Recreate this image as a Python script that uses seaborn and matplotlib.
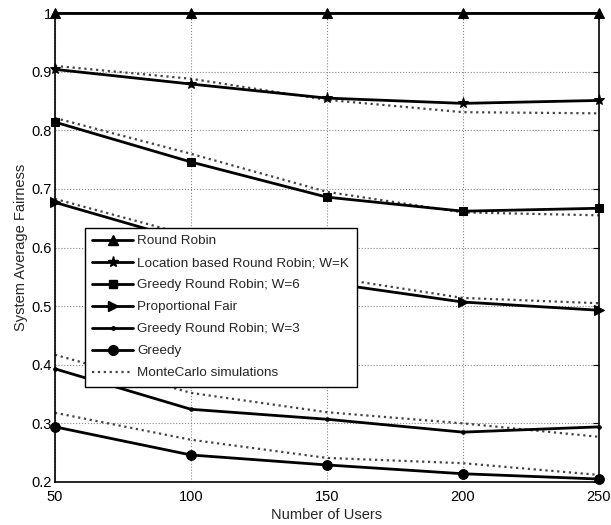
import matplotlib
matplotlib.use("Agg")
import matplotlib.pyplot as plt
from matplotlib.lines import Line2D
import pandas as pd
import seaborn as sns

users = [50, 100, 150, 200, 250]

# analytical results
round_robin = [1.0, 1.0, 1.0, 1.0, 1.0]
loc_rr = [0.904, 0.879, 0.855, 0.846, 0.851]
greedy_rr6 = [0.814, 0.746, 0.686, 0.662, 0.667]
prop_fair = [0.677, 0.610, 0.540, 0.507, 0.493]
greedy_rr3 = [0.393, 0.324, 0.307, 0.285, 0.294]
greedy = [0.294, 0.246, 0.229, 0.214, 0.205]

# MonteCarlo simulations
mc_round_robin = [1.0, 1.0, 1.0, 1.0, 1.0]
mc_loc_rr = [0.910, 0.888, 0.852, 0.831, 0.829]
mc_greedy_rr6 = [0.821, 0.760, 0.695, 0.660, 0.655]
mc_prop_fair = [0.683, 0.620, 0.550, 0.514, 0.505]
mc_greedy_rr3 = [0.417, 0.352, 0.319, 0.300, 0.277]
mc_greedy = [0.318, 0.272, 0.241, 0.232, 0.212]

labels = ["Round Robin", "Location based Round Robin; W=K", "Greedy Round Robin; W=6",
          "Proportional Fair", "Greedy Round Robin; W=3", "Greedy"]
series = [round_robin, loc_rr, greedy_rr6, prop_fair, greedy_rr3, greedy]
mc_series = [mc_round_robin, mc_loc_rr, mc_greedy_rr6, mc_prop_fair, mc_greedy_rr3, mc_greedy]
markers = ["^", "*", "s", ">", ".", "o"]
msizes = [7, 8, 6, 7, 5, 7]

sns.set_style("white")
plt.rcParams["font.family"] = ["Liberation Sans", "DejaVu Sans"]

fig = plt.figure(figsize=(6.11, 5.25), dpi=100)
ax = fig.add_axes([0.090, 0.082, 0.890, 0.893])

for mc in mc_series:
    df = pd.DataFrame({"users": users, "fair": mc})
    sns.lineplot(data=df, x="users", y="fair", ax=ax, color="#444444",
                 linestyle=":", linewidth=1.6, zorder=2)

handles = []
for lab, s, m, ms in zip(labels, series, markers, msizes):
    df = pd.DataFrame({"users": users, "fair": s})
    sns.lineplot(data=df, x="users", y="fair", ax=ax, color="black", linewidth=2,
                 marker=m, markersize=ms, markeredgecolor="black", zorder=3,
                 clip_on=False)
    handles.append(Line2D([], [], color="black", linewidth=2, marker=m,
                          markersize=ms, label=lab))
handles.append(Line2D([], [], color="#444444", linestyle=":", linewidth=1.6,
                      label="MonteCarlo simulations"))

ax.set_xlim(50, 250)
ax.set_ylim(0.2, 1.0)
ax.set_xticks(users)
yt = [0.2, 0.3, 0.4, 0.5, 0.6, 0.7, 0.8, 0.9, 1.0]
ax.set_yticks(yt)
ax.set_yticklabels(["0.2", "0.3", "0.4", "0.5", "0.6", "0.7", "0.8", "0.9", "1"])
ax.grid(True, linestyle=":", color="#888888", linewidth=0.8)
ax.tick_params(direction="in", top=True, right=True, length=4, labelsize=10.5,
               colors="black")
ax.tick_params(axis="x", pad=6)
ax.tick_params(axis="y", pad=2)
for sp in ax.spines.values():
    sp.set_color("black")
    sp.set_linewidth(1.2)
ax.set_xlabel("Number of Users", fontsize=10.5, labelpad=3)
ax.set_ylabel("System Average Fairness", fontsize=10.5, labelpad=3)

leg = ax.legend(handles=handles, loc="lower left", bbox_to_anchor=(0.055, 0.203),
                fontsize=9.7, frameon=True, fancybox=False, borderpad=0.55,
                handlelength=3.0, handletextpad=0.35, labelspacing=0.71,
                borderaxespad=0)
leg.get_frame().set_edgecolor("black")
leg.get_frame().set_linewidth(1.0)
leg.get_frame().set_alpha(1)

fig.savefig("out.png", dpi=100)
